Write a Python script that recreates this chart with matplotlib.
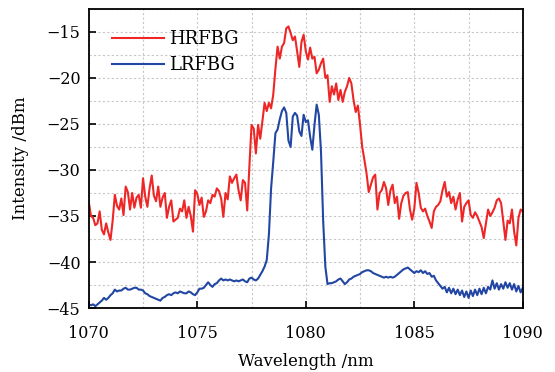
import numpy as np
import matplotlib
matplotlib.use("Agg")
import matplotlib.pyplot as plt
from matplotlib.ticker import MultipleLocator

# --- dane (krok 0.1 nm, 1070-1090 nm) ---
hrfbg = [
    -33.5, -35.0, -35.2, -36.0, -35.8, -34.5, -36.5, -37.0, -35.8, -36.8,  # 1070
    -37.6, -35.5, -32.7, -33.9, -34.3, -33.1, -34.9, -31.8, -32.4, -34.3,  # 1071
    -32.5, -34.1, -33.0, -32.7, -34.1, -30.9, -32.9, -34.0, -32.0, -30.6,  # 1072
    -32.8, -33.4, -31.8, -34.0, -33.0, -32.5, -35.2, -34.0, -33.3, -35.6,  # 1073
    -35.4, -35.2, -34.2, -34.5, -33.3, -35.2, -34.0, -35.0, -36.7, -32.2,  # 1074
    -32.6, -33.8, -33.0, -35.1, -34.5, -33.3, -33.6, -32.7, -32.9, -32.0,  # 1075
    -32.3, -33.1, -35.1, -32.5, -33.2, -30.7, -31.4, -30.9, -30.5, -32.2,  # 1076
    -33.3, -31.1, -31.4, -34.4, -29.6, -25.1, -25.5, -28.2, -25.1, -26.6,  # 1077
    -24.7, -22.7, -23.6, -22.7, -23.3, -21.8, -19.0, -16.6, -17.9, -16.6,  # 1078
    -16.2, -14.6, -14.4, -15.1, -15.9, -15.5, -17.1, -18.8, -16.1, -15.3,  # 1079
    -17.1, -18.0, -16.7, -17.9, -17.7, -19.5, -19.1, -18.4, -17.9, -20.0,  # 1080
    -19.7, -22.6, -20.9, -21.8, -20.6, -22.4, -21.3, -22.6, -21.5, -20.9,  # 1081
    -20.0, -20.6, -22.4, -23.7, -23.0, -25.1, -27.5, -28.9, -30.4, -32.4,  # 1082
    -31.6, -30.8, -30.5, -34.3, -32.5, -32.2, -31.3, -32.0, -33.8, -32.2,  # 1083
    -31.6, -33.6, -32.9, -35.3, -33.6, -32.8, -32.5, -32.4, -34.3, -35.4,  # 1084
    -34.2, -31.4, -32.5, -34.1, -34.5, -34.2, -35.0, -35.6, -36.3, -34.5,  # 1085
    -34.0, -33.8, -33.4, -32.2, -31.3, -32.9, -32.4, -33.6, -32.9, -34.3,  # 1086
    -33.2, -32.5, -35.6, -34.0, -33.6, -33.3, -34.9, -35.2, -34.6, -35.0,  # 1087
    -35.6, -36.2, -37.4, -35.8, -34.3, -35.0, -34.6, -34.1, -33.3, -33.1,  # 1088
    -33.6, -35.6, -37.6, -35.5, -35.8, -34.3, -36.7, -38.2, -35.2, -34.3,  # 1089
    -34.5,
]

lrfbg = [
    -44.6, -44.7, -44.6, -44.8, -44.6, -44.4, -44.2, -43.9, -44.1, -43.9,  # 1070
    -43.6, -43.4, -43.0, -43.2, -43.1, -43.1, -42.9, -42.8, -43.0, -43.0,  # 1071
    -42.9, -42.8, -42.8, -43.0, -43.0, -43.1, -43.4, -43.5, -43.7, -43.8,  # 1072
    -43.9, -44.0, -44.1, -44.2, -43.9, -43.8, -43.6, -43.5, -43.6, -43.4,  # 1073
    -43.3, -43.4, -43.2, -43.3, -43.4, -43.4, -43.2, -43.3, -43.5, -43.6,  # 1074
    -43.3, -42.9, -42.9, -42.8, -42.5, -42.2, -42.5, -42.7, -42.4, -42.3,  # 1075
    -42.0, -41.8, -42.0, -41.9, -42.0, -41.9, -42.0, -42.1, -42.0, -42.1,  # 1076
    -42.0, -41.9, -42.1, -42.2, -41.8, -41.7, -41.9, -42.0, -41.8, -41.4,  # 1077
    -41.0, -40.5, -39.8, -37.0, -32.0, -29.1, -26.0, -25.6, -24.5, -23.6,  # 1078
    -23.2, -23.8, -26.8, -27.5, -24.2, -23.8, -24.1, -25.8, -26.3, -24.0,  # 1079
    -24.8, -24.6, -26.4, -27.8, -25.1, -22.9, -24.0, -28.0, -35.5, -40.5,  # 1080
    -42.4, -42.3, -42.3, -42.2, -42.1, -41.9, -41.8, -42.1, -42.4, -42.2,  # 1081
    -41.9, -41.8, -41.6, -41.5, -41.4, -41.3, -41.1, -41.0, -40.9, -40.9,  # 1082
    -41.0, -41.2, -41.3, -41.4, -41.5, -41.6, -41.7, -41.6, -41.7, -41.6,  # 1083
    -41.7, -41.6, -41.4, -41.2, -41.0, -40.8, -40.7, -40.6, -40.8, -41.0,  # 1084
    -41.2, -41.0, -41.1, -40.9, -41.2, -41.0, -41.3, -41.2, -41.6, -41.5,  # 1085
    -42.0, -42.3, -42.6, -42.9, -42.7, -43.3, -42.8, -43.4, -42.9, -43.5,  # 1086
    -43.0, -43.6, -43.1, -43.8, -43.2, -43.9, -43.1, -43.7, -43.0, -43.6,  # 1087
    -42.9, -43.5, -42.8, -43.4, -42.7, -43.0, -42.0, -42.9, -42.3, -43.0,  # 1088
    -42.4, -42.9, -42.2, -42.8, -42.3, -43.0, -42.4, -43.2, -42.6, -43.3,  # 1089
    -42.8,
]

wl = np.linspace(1070, 1090, len(hrfbg))

plt.rcParams["font.family"] = ["DejaVu Serif"]
plt.rcParams["mathtext.fontset"] = "dejavuserif"

fig = plt.figure(figsize=(5.55, 3.72), dpi=100)
ax = fig.add_axes([0.160, 0.172, 0.782, 0.804])

ax.plot(wl, hrfbg, color="#ee2626", lw=1.5, label="HRFBG")
ax.plot(wl, lrfbg, color="#2146a3", lw=1.5, label="LRFBG")

ax.set_xlim(1070, 1090)
ax.set_ylim(-45, -12.5)
ax.xaxis.set_major_locator(MultipleLocator(5))
ax.xaxis.set_minor_locator(MultipleLocator(2.5))
ax.yaxis.set_major_locator(MultipleLocator(5))
ax.yaxis.set_minor_locator(MultipleLocator(2.5))
ax.grid(True, which="both", linestyle=(0, (2, 2)), color="#c8c8c8", lw=0.8)
ax.set_axisbelow(True)
ax.tick_params(which="major", direction="in", length=5, width=1.2, labelsize=11.5)
ax.tick_params(axis="x", which="major", pad=12)
ax.tick_params(axis="y", which="major", pad=6)
ax.tick_params(which="minor", length=0)
for s in ax.spines.values():
    s.set_linewidth(1.3)

ax.set_xlabel("Wavelength /nm", fontsize=12, labelpad=8)
ax.set_ylabel("Intensity /dBm", fontsize=12, labelpad=13)

ax.legend(loc="upper left", bbox_to_anchor=(0.012, 0.99), frameon=False, fontsize=13,
          handlelength=2.9, handletextpad=0.25, labelspacing=0.45, borderaxespad=0.6)

fig.savefig("out.png", dpi=100)
